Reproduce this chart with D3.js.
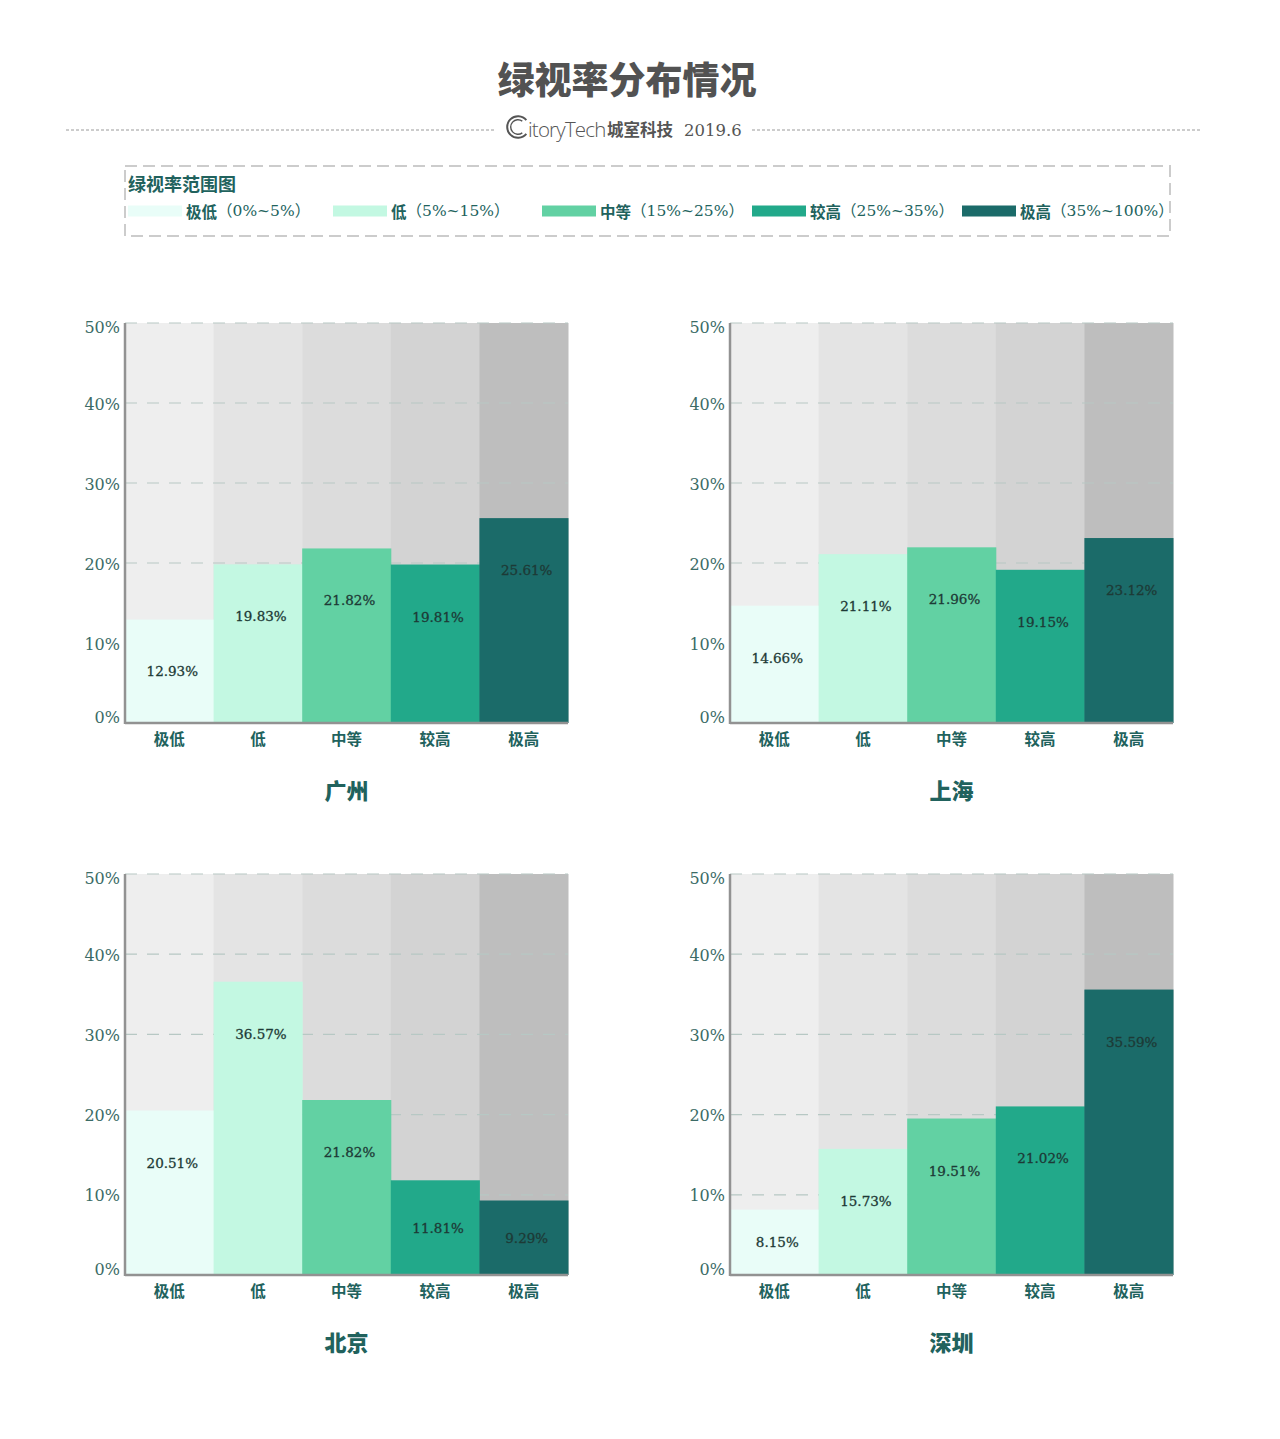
<!DOCTYPE html>
<html>
<head>
<meta charset="utf-8">
<script src="https://cdn.jsdelivr.net/npm/d3@7"></script>
<style>
  html, body { margin: 0; padding: 0; background: #ffffff; }
  svg { display: block; }
</style>
</head>
<body>
<svg id="chart" width="1280" height="1439"></svg>
<script>
// ---------------- data ----------------
const categories = ["极低", "低", "中等", "较高", "极高"];
const legendRanges = ["（0%~5%）", "（5%~15%）", "（15%~25%）", "（25%~35%）", "（35%~100%）"];
const cities = ["广州", "上海", "北京", "深圳"];
const guangzhou = [12.93, 19.83, 21.82, 19.81, 25.61];
const shanghai  = [14.66, 21.11, 21.96, 19.15, 23.12];
const beijing   = [20.51, 36.57, 21.82, 11.81, 9.29];
const shenzhen  = [8.15, 15.73, 19.51, 21.02, 35.59];
const yTicks = [0, 10, 20, 30, 40, 50];
const titleText = "绿视率分布情况";
const legendTitle = "绿视率范围图";
const brandText = "itoryTech";
const sourceCjk = "城室科技";
const sourceDate = "2019.6";

// ---------------- styles ----------------
const barColors = ["#e9fdf8", "#c3f8e2", "#62d1a3", "#22a98a", "#1b6b69"];
const bgColors  = ["#eeeeee", "#e4e4e4", "#dcdcdc", "#d3d3d3", "#bebebe"];
const teal = "#21625d";
const axisGrey = "#929292";
const serif = "'DejaVu Serif', 'Liberation Serif', serif";
const cjk = "'Noto Sans CJK SC', sans-serif";

const svg = d3.select("#chart");

// ---------------- title ----------------
svg.append("text")
  .attr("x", 627).attr("y", 78)
  .attr("text-anchor", "middle").attr("dominant-baseline", "central")
  .attr("font-family", cjk).attr("font-weight", 900)
  .attr("font-size", 37).attr("fill", "#525252")
  .text(titleText);

// subtitle dashed rules
[[66, 496], [752, 1200]].forEach(([a, b]) => {
  svg.append("line")
    .attr("x1", a).attr("x2", b).attr("y1", 130).attr("y2", 130)
    .attr("stroke", "#9a9a9a").attr("stroke-width", 1)
    .attr("stroke-dasharray", "3,2");
});
const sub = svg.append("g");
sub.append("path")
  .attr("d", d3.arc()({innerRadius: 9.8, outerRadius: 11.8, startAngle: Math.PI * 0.72, endAngle: Math.PI * 2.28}))
  .attr("transform", "translate(518,127)")
  .attr("fill", "#555");
sub.append("path")
  .attr("d", d3.arc()({innerRadius: 6.6, outerRadius: 8, startAngle: Math.PI * 0.8, endAngle: Math.PI * 2.2}))
  .attr("transform", "translate(518,127)")
  .attr("fill", "#555");
sub.append("text")
  .attr("x", 528).attr("y", 137)
  .attr("font-family", "'Open Sans', 'Noto Sans', sans-serif").attr("font-weight", 300)
  .attr("font-size", 20.5).attr("letter-spacing", -0.8).attr("fill", "#555").text(brandText);
sub.append("text")
  .attr("x", 607).attr("y", 136)
  .attr("font-family", cjk).attr("font-weight", 700)
  .attr("font-size", 16.5).attr("fill", "#555")
  .text(sourceCjk);
sub.append("text")
  .attr("x", 684).attr("y", 136)
  .attr("font-family", serif)
  .attr("font-size", 16.5).attr("fill", "#555")
  .text(sourceDate);

// ---------------- legend ----------------
svg.append("rect")
  .attr("x", 125).attr("y", 166).attr("width", 1045).attr("height", 70)
  .attr("fill", "none").attr("stroke", "#cccccc").attr("stroke-width", 2)
  .attr("stroke-dasharray", "12,6");
svg.append("text")
  .attr("x", 128).attr("y", 183)
  .attr("dominant-baseline", "central")
  .attr("font-family", cjk).attr("font-weight", 700)
  .attr("font-size", 18).attr("fill", teal)
  .text(legendTitle);
const legendX = [128, 333, 542, 752, 962];
categories.forEach((c, i) => {
  const g = svg.append("g").attr("transform", `translate(${legendX[i]},211)`);
  g.append("rect").attr("x", 0).attr("y", -5.5).attr("width", 54).attr("height", 11)
    .attr("fill", barColors[i]);
  const t = g.append("text").attr("x", 58).attr("y", 0)
    .attr("dominant-baseline", "central")
    .attr("font-size", 15.5).attr("fill", teal);
  t.append("tspan").attr("font-family", cjk).attr("font-weight", 700).text(c);
  t.append("tspan").attr("font-family", serif + ", " + cjk).text(legendRanges[i]);
});

// ---------------- charts ----------------
const panels = [
  {name: cities[0], values: guangzhou, x0: 125, x1: 568, y0: 323, y1: 723},
  {name: cities[1], values: shanghai,  x0: 730, x1: 1173, y0: 323, y1: 723},
  {name: cities[2], values: beijing,   x0: 125, x1: 568, y0: 874, y1: 1275},
  {name: cities[3], values: shenzhen,  x0: 730, x1: 1173, y0: 874, y1: 1275}
];

panels.forEach(p => {
  const g = svg.append("g");
  const x = d3.scaleBand().domain(categories).range([p.x0, p.x1]).paddingInner(0).paddingOuter(0);
  const y = d3.scaleLinear().domain([0, 50]).range([p.y1, p.y0]);

  // grey background columns
  g.selectAll("rect.bg").data(categories).join("rect")
    .attr("class", "bg")
    .attr("x", d => x(d)).attr("y", y(50))
    .attr("width", x.bandwidth() + 0.5).attr("height", y(0) - y(50))
    .attr("fill", (d, i) => bgColors[i]);

  // grid lines
  g.selectAll("line.grid").data(yTicks.filter(t => t > 0)).join("line")
    .attr("class", "grid")
    .attr("x1", p.x0).attr("x2", p.x1)
    .attr("y1", d => y(d)).attr("y2", d => y(d))
    .attr("stroke", "#b7c8c4").attr("stroke-width", 1.2)
    .attr("stroke-dasharray", "12,10");

  // bars
  g.selectAll("rect.bar").data(p.values).join("rect")
    .attr("class", "bar")
    .attr("x", (d, i) => x(categories[i])).attr("y", d => y(d))
    .attr("width", x.bandwidth() + 0.5).attr("height", d => y(0) - y(d))
    .attr("fill", (d, i) => barColors[i]);

  // value labels
  g.selectAll("text.val").data(p.values).join("text")
    .attr("class", "val")
    .attr("x", (d, i) => x(categories[i]) + x.bandwidth() / 2 + 3)
    .attr("y", d => y(d) + Math.min(52, (y(0) - y(d)) / 2))
    .attr("text-anchor", "middle").attr("dominant-baseline", "central")
    .attr("font-family", serif).attr("font-size", 13.5)
    .attr("fill", "#1d3a36").attr("stroke", "#1d3a36").attr("stroke-width", 0.3)
    .text(d => d.toFixed(2) + "%");

  // y axis
  const ya = g.append("g").attr("transform", `translate(${p.x0},0)`)
    .call(d3.axisLeft(y).tickValues(yTicks).tickSize(0).tickPadding(5).tickFormat(d => d + "%"));
  ya.select(".domain").remove();
  ya.selectAll("text")
    .attr("font-family", serif).attr("font-size", 16)
    .attr("fill", "#3b6b66")
    .attr("dy", d => d === 0 ? "-0.05em" : d === 50 ? "0.62em" : "0.38em");

  // x axis
  const xa = g.append("g").attr("transform", `translate(0,${p.y1})`)
    .call(d3.axisBottom(x).tickSize(0).tickPadding(11));
  xa.select(".domain").remove();
  xa.selectAll("text")
    .attr("font-family", cjk).attr("font-weight", 700).attr("font-size", 15.5)
    .attr("fill", teal);

  // axis lines
  g.append("line").attr("x1", p.x0).attr("x2", p.x0).attr("y1", p.y0).attr("y2", p.y1 + 1)
    .attr("stroke", axisGrey).attr("stroke-width", 2.5);
  g.append("line").attr("x1", p.x0).attr("x2", p.x1).attr("y1", p.y1).attr("y2", p.y1)
    .attr("stroke", axisGrey).attr("stroke-width", 2.5);

  // city title
  g.append("text")
    .attr("x", (p.x0 + p.x1) / 2).attr("y", p.y1 + 66)
    .attr("text-anchor", "middle").attr("dominant-baseline", "central")
    .attr("font-family", cjk).attr("font-weight", 900).attr("font-size", 22)
    .attr("fill", teal)
    .text(p.name);
});
</script>
</body>
</html>
